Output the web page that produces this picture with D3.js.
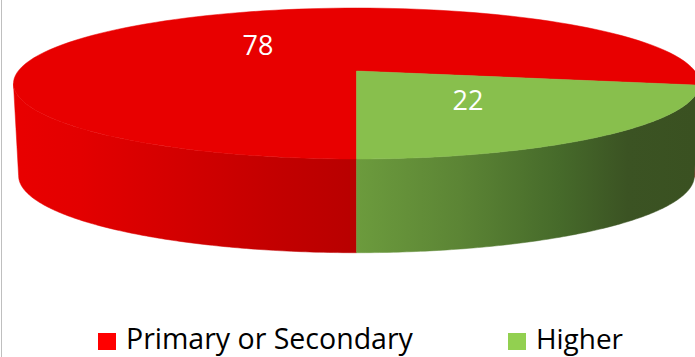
<!DOCTYPE html>
<html>
<head>
<meta charset="utf-8">
<script src="https://cdn.jsdelivr.net/npm/d3@7"></script>
<style>
  html, body { margin: 0; padding: 0; background: #fff; }
  svg { display: block; }
</style>
</head>
<body>
<svg id="chart" width="695" height="357"></svg>
<script>
// ---- data ----
const categories = ["Primary or Secondary", "Higher"];
const values = [78, 22];
const legendColors = ["#FF0000", "#92D050"];
const topColors = ["#E80000", "#88BF4D"];
const sideStops = [
  [[0, "#E90000"], [0.2, "#E30000"], [0.5, "#D20000"], [0.78, "#C20000"], [1, "#B80000"]],
  [[0, "#6C9B3D"], [0.3, "#5C8535"], [0.6, "#466A2A"], [0.8, "#3B5323"], [1, "#3A5121"]]
];
const sideRanges = [[12, 357], [357, 695]];

const svg = d3.select("#chart");
const W = 695, H = 357;

// perspective-projected pie geometry
const cx = 356.5, cy0 = 71, A = 338.3, B = 73.4, k = 0.1656;
const depth = 92, bottomSx = 0.985, bottomSy = 1.02;

function projTop(theta, f = 1) {
  const s = Math.sin(theta), c = Math.cos(theta);
  const D = 1 + k * f * c;
  return [cx + A * f * s / D, cy0 - B * f * c / D];
}
function projBottom(theta) {
  const s = Math.sin(theta), c = Math.cos(theta);
  const D = 1 + k * c;
  return [cx + bottomSx * A * s / D, cy0 + depth - bottomSy * B * c / D];
}

const pie = d3.pie().sort(null).value(d => d).startAngle(Math.PI).endAngle(3 * Math.PI);
const arcs = pie(values);

const visLo = Math.acos(-k), visHi = 2 * Math.PI - Math.acos(-k);

const defs = svg.append("defs");
sideStops.forEach((stops, i) => {
  const g = defs.append("linearGradient")
    .attr("id", "side" + i)
    .attr("gradientUnits", "userSpaceOnUse")
    .attr("x1", sideRanges[i][0]).attr("x2", sideRanges[i][1])
    .attr("y1", 0).attr("y2", 0);
  stops.forEach(s => g.append("stop").attr("offset", s[0]).attr("stop-color", s[1]));
});

svg.append("line").attr("x1", 1.5).attr("x2", 1.5).attr("y1", 0).attr("y2", H)
  .attr("stroke", "#BFBFBF").attr("stroke-width", 1);

const line = d3.line();
const N = 120;

// sides
arcs.forEach((a, i) => {
  const segs = [];
  const s0 = a.startAngle, s1 = a.endAngle;
  for (let off = -2 * Math.PI; off <= 2 * Math.PI; off += 2 * Math.PI) {
    const lo = Math.max(s0 + off, visLo), hi = Math.min(s1 + off, visHi);
    if (hi > lo) segs.push([lo, hi]);
  }
  segs.forEach(([lo, hi]) => {
    const pts = [];
    for (let j = 0; j <= N; j++) pts.push(projTop(lo + (hi - lo) * j / N));
    for (let j = N; j >= 0; j--) pts.push(projBottom(lo + (hi - lo) * j / N));
    svg.append("path").attr("d", line(pts) + "Z")
      .attr("fill", `url(#side${i})`)
      .attr("stroke", `url(#side${i})`).attr("stroke-width", 0.5);
  });
});

// top faces
arcs.forEach((a, i) => {
  const pts = [projTop(0, 0)];
  for (let j = 0; j <= N; j++) pts.push(projTop(a.startAngle + (a.endAngle - a.startAngle) * j / N));
  svg.append("path").attr("d", line(pts) + "Z")
    .attr("fill", topColors[i]).attr("stroke", topColors[i]).attr("stroke-width", 0.5);
});

// data labels
arcs.forEach((a, i) => {
  const mid = (a.startAngle + a.endAngle) / 2;
  const p = projTop(mid, 0.485);
  svg.append("text")
    .attr("x", p[0]).attr("y", p[1] + 9.5)
    .attr("text-anchor", "middle")
    .attr("font-family", "'Open Sans', sans-serif")
    .attr("font-size", 27)
    .attr("fill", "#FFFFFF")
    .text(values[i]);
});

// legend
const legendX = [98, 508], textX = [126, 536], textW = [287, 87];
categories.forEach((c, i) => {
  svg.append("rect").attr("x", legendX[i]).attr("y", 333).attr("width", 18).attr("height", 17)
    .attr("fill", legendColors[i]);
  const t = svg.append("text")
    .attr("x", textX[i]).attr("y", 349)
    .attr("font-family", "'Open Sans', sans-serif")
    .attr("font-size", 26)
    .attr("fill", "#000")
    .text(c);
  const w = t.node().getComputedTextLength();
  t.attr("font-size", 26 * textW[i] / w);
});
</script>
</body>
</html>
